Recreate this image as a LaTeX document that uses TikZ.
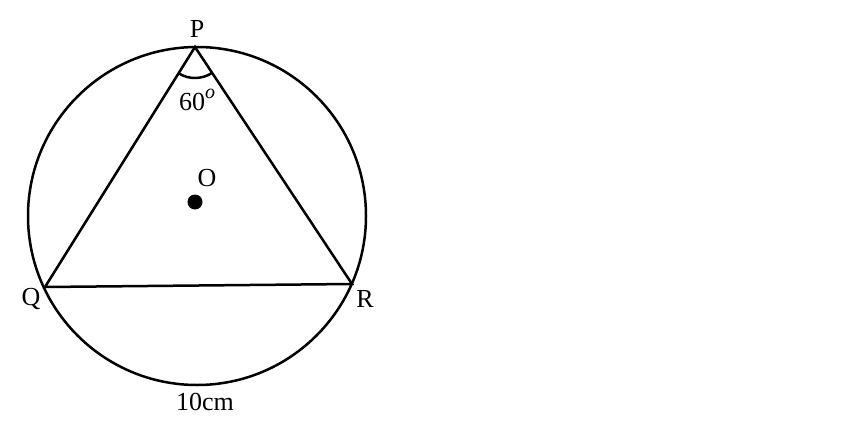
\documentclass[tikz,border=0pt]{standalone}
\usepackage{fontspec}
\setmainfont{Liberation Serif}
\usetikzlibrary{angles}
\begin{document}
\begin{tikzpicture}[x=1pt,y=1pt,
  geo/.style={line width=2.5pt,black},
  lbl/.style={font=\fontsize{26}{30}\selectfont,inner sep=0pt}]
\useasboundingbox (0,0) rectangle (864,432);
\coordinate (C) at (197,216);
\coordinate (P) at (195,385);
\coordinate (Q) at (45,145);
\coordinate (R) at (352,148);
\draw[geo] (C) circle (169);
\draw[geo,line join=miter] (P) -- (Q) -- (R) -- cycle;
\pic[draw,line width=2.5pt,angle radius=31pt] {angle = Q--P--R};
\node[circle,fill=black,minimum size=15pt,inner sep=0pt] (O) at (195,230) {};
\node[lbl] (lP) at (197,403) {P};
\node[lbl] (lQ) at (31,133) {Q};
\node[lbl] (lR) at (365,133) {R};
\node[lbl] (lO) at (207,254) {O};
\node[lbl] (l60) at (197,332) {60\raisebox{0.45em}{\fontsize{20}{22}\selectfont\itshape o}};
\node[lbl] (l10) at (205,30) {10cm};
\end{tikzpicture}
\end{document}
